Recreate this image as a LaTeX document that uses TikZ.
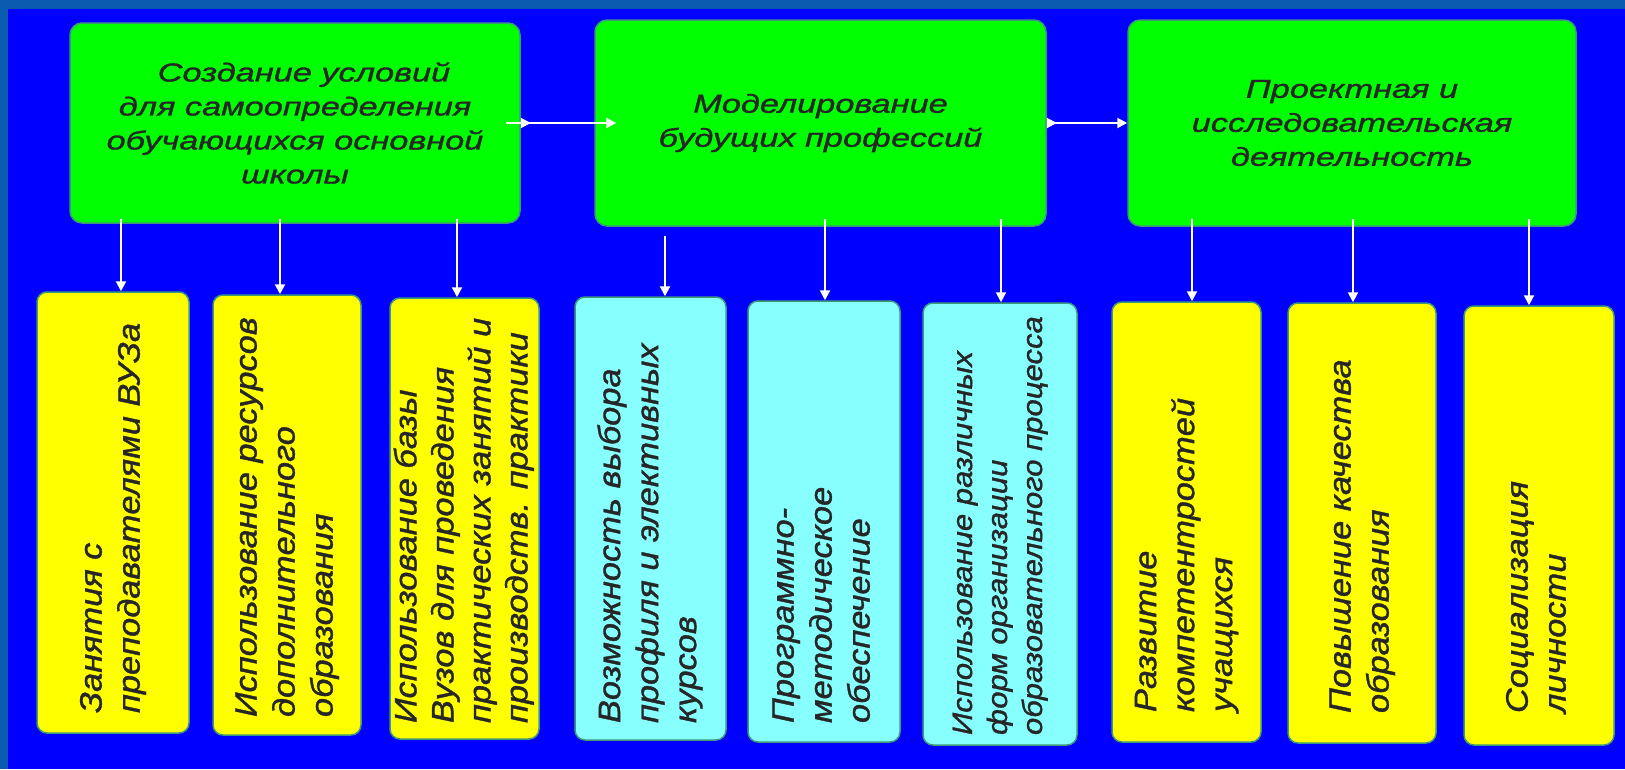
\documentclass[tikz,border=0pt]{standalone}
\usepackage{fontspec}
\setmainfont{Liberation Sans}
\newfontfamily\headfont{Liberation Sans}[FakeStretch=1.32, FakeBold=1.2]
\newfontfamily\colfont{Liberation Sans}[FakeStretch=1.11, FakeBold=1.2]
\usepackage{graphicx}
\usetikzlibrary{arrows.meta,calc}

\definecolor{framebg}{HTML}{0A5CB0}
\definecolor{slidebg}{HTML}{0000FF}
\definecolor{headgreen}{HTML}{00FF00}
\definecolor{colyellow}{HTML}{FFFF00}
\definecolor{colcyan}{HTML}{88FFFF}
\definecolor{boxline}{HTML}{3C9A78}

% vertical text, first arg = length of the text line field
\newcommand{\coltext}[2]{\rotatebox{90}{\makebox[#1pt][l]{\begin{tabular}{@{}l@{}}#2\end{tabular}}}}

\tikzset{
  headbox/.style={draw=boxline, line width=1.5pt, fill=headgreen, rounded corners=12pt,
    inner sep=0pt, align=center, text=black!85, font=\headfont\itshape\fontsize{26}{34}\selectfont},
  colbox/.style={draw=boxline, line width=1.5pt, rounded corners=10pt, inner sep=0pt,
    text=black!85, font=\colfont\itshape\fontsize{31}{38}\selectfont},
  ybox/.style={colbox, fill=colyellow},
  cbox/.style={colbox, fill=colcyan},
  flow/.style={draw=white, line width=2pt},
  tip/.style={-{Triangle[length=10pt,width=10pt]}},
  twotip/.style={{Triangle[reversed,length=10pt,width=10pt]}-{Triangle[length=10pt,width=10pt]}}
}

\begin{document}
\begin{tikzpicture}[x=1pt, y=-1pt]
  \fill[framebg] (0,0) rectangle (1625,769);
  \fill[slidebg] (8,9) rectangle (1625,769);
  \useasboundingbox (0,0) rectangle (1625,769);

  % top row
  \node[headbox, minimum width=450, minimum height=200] (g1) at (295,123)
    {\hspace*{18pt}Создание условий\\для самоопределения\\обучающихся основной\\школы};
  \node[headbox, minimum width=451, minimum height=206] (g2) at (820.5,123)
    {Моделирование\\будущих профессий};
  \node[headbox, minimum width=448, minimum height=206] (g3) at (1352,123)
    {Проектная и\\исследовательская\\деятельность};

  % lower row
  \node[ybox, minimum width=152, minimum height=441] (y1) at (113,512.5)
    {\coltext{401}{Занятия с\\преподавателями ВУЗа}};
  \node[ybox, minimum width=148, minimum height=440] (y2) at (287,515)
    {\coltext{404}{Использование ресурсов\\дополнительного\\образования}};
  \node[ybox, minimum width=149, minimum height=441, font=\colfont\itshape\fontsize{31}{37}\selectfont] (y3) at (464.5,518.5)
    {\coltext{409}{Использование базы\\Вузов для  проведения\\практических занятий и\\производств. практики}};
  \node[cbox, minimum width=151, minimum height=443] (c1) at (650.5,518.5)
    {\coltext{409}{Возможность выбора\\профиля и элективных\\курсов}};
  \node[cbox, minimum width=152, minimum height=441] (c2) at (824,521.5)
    {\coltext{403}{Программно-\\методическое\\обеспечение}};
  \node[cbox, minimum width=154, minimum height=442, font=\colfont\itshape\fontsize{28}{35}\selectfont] (c3) at (1000,524)
    {\coltext{422}{Использование различных\\форм организации\\образовательного процесса}};
  \node[ybox, minimum width=149, minimum height=440] (y4) at (1186.5,522)
    {\coltext{380}{Развитие\\компетентростей\\учащихся}};
  \node[ybox, minimum width=148, minimum height=440] (y5) at (1362,523)
    {\coltext{380}{Повышение качества\\образования}};
  \node[ybox, minimum width=150, minimum height=439] (y6) at (1539,525.5)
    {\coltext{375}{Социализация\\личности}};

  % connectors
  \draw[flow] ($(g1.east)+(-15,0)$) -- (g1.east);
  \draw[flow, twotip] (g1.east) -- ($(g2.west)+(22,0)$);
  \draw[flow, twotip] (g2.east) -- (g3.west);
  \foreach \p/\c/\x/\s in {g1/y1/121/-5, g1/y2/280/-5, g1/y3/457/-5,
      g2/c1/665/9, g2/c2/825/-8, g2/c3/1001/-8,
      g3/y4/1192/-8, g3/y5/1353/-8, g3/y6/1529/-8}
    \draw[flow, tip] ($(\x,0 |- \p.south)+(0,\s)$) -- (\x,0 |- \c.north);
\end{tikzpicture}
\end{document}
